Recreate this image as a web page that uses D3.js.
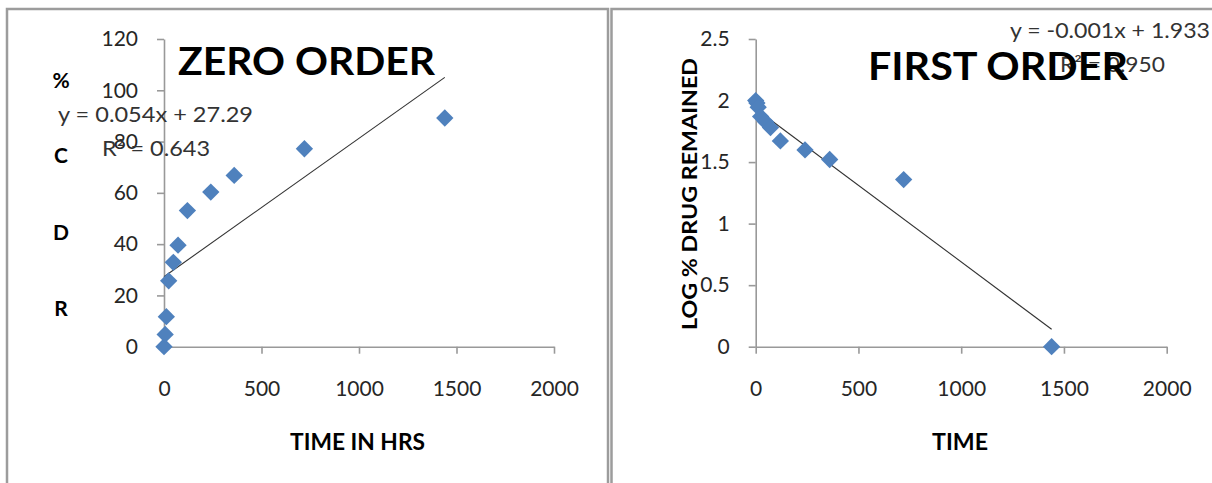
<!DOCTYPE html>
<html><head><meta charset="utf-8">
<script src="https://cdn.jsdelivr.net/npm/d3@7"></script>
<style>body{margin:0;background:#fff;overflow:hidden}</style>
</head><body><svg id="c" width="1212" height="483"></svg>
<script>
// ---- data ----
const timeHrs = [0, 6, 12, 24, 48, 72, 120, 240, 360, 720, 1440];
const cdrPercent = [0, 4.8, 11.7, 25.7, 32.9, 39.6, 53.1, 60.3, 66.8, 77.2, 89.2];
const logDrugRemained = [2.0, 1.979, 1.946, 1.870, 1.827, 1.780, 1.672, 1.599, 1.521, 1.358, 0];
const zeroTrend = [0.054, 27.29];      // slope, intercept
const firstTrend = [-0.001244, 1.933]; // slope, intercept
const xTicks = [0, 500, 1000, 1500, 2000];
const zeroYTicks = [0, 20, 40, 60, 80, 100, 120];
const firstYTicks = [0, 0.5, 1, 1.5, 2, 2.5];
const zeroEq = ["y = 0.054x + 27.29", "R² = 0.643"];
const firstEq = ["y = -0.001x + 1.933", "R² = 0.950"];
const titles = ["ZERO ORDER", "FIRST ORDER"];
const xTitles = ["TIME IN HRS", "TIME"];
const zeroYLetters = ["%", "C", "D", "R"];
const firstYTitle = "LOG % DRUG REMAINED";

const svg = d3.select("#c");
const FONT = "Lato, 'Open Sans', sans-serif";
const blue = "#4f81bd";
const axisCol = "#999";

// panel frames
svg.append("rect").attr("x", 7).attr("y", 9).attr("width", 601).attr("height", 520)
  .attr("fill", "none").attr("stroke", "#9c9c9c").attr("stroke-width", 2.5);
svg.append("rect").attr("x", 611.5).attr("y", 9).attr("width", 640).attr("height", 520)
  .attr("fill", "none").attr("stroke", "#9c9c9c").attr("stroke-width", 2.5);

function panel(cfg) {
  const x = d3.scaleLinear().domain([0, 2000]).range(cfg.xr);
  const y = d3.scaleLinear().domain(cfg.yd).range([346.7, 39]);
  const g = svg.append("g");

  const ax = g.append("g").attr("transform", `translate(0,${y(0)})`)
    .call(d3.axisBottom(x).tickValues(xTicks).tickSize(7).tickSizeOuter(0).tickPadding(27).tickFormat(d3.format("d")));
  const ay = g.append("g").attr("transform", `translate(${x(0)},0)`)
    .call(d3.axisLeft(y).tickValues(cfg.yTicks).tickSize(7).tickSizeOuter(0).tickPadding(19).tickFormat(cfg.fmt));
  [ax, ay].forEach(a => {
    a.selectAll("path,line").attr("stroke", axisCol).attr("stroke-width", 1.6);
    a.selectAll("text").attr("font-family", FONT).attr("font-size", 21).attr("fill", "#262626");
  });

  // trendline
  const [m, b] = cfg.trend;
  const x0 = d3.min(timeHrs), x1 = d3.max(timeHrs);
  g.append("line").attr("x1", x(x0)).attr("y1", y(m * x0 + b)).attr("x2", x(x1)).attr("y2", y(m * x1 + b))
    .attr("stroke", "#333").attr("stroke-width", 1.1);

  // points
  const sym = d3.symbol().type(d3.symbolSquare).size(150);
  g.selectAll("path.pt").data(timeHrs.map((t, i) => [t, cfg.vals[i]])).enter().append("path")
    .attr("class", "pt").attr("d", sym)
    .attr("transform", d => `translate(${x(d[0])},${y(d[1])}) rotate(45)`)
    .attr("fill", blue);

  // equations
  cfg.eq.forEach((t, i) => {
    g.append("text").attr("x", cfg.eqPos[i][0]).attr("y", cfg.eqPos[i][1]).text(t)
      .attr("font-family", FONT).attr("font-size", 21).attr("fill", "#333")
      .attr("textLength", cfg.eqPos[i][2]).attr("lengthAdjust", "spacingAndGlyphs");
  });

  // title
  g.append("text").attr("x", cfg.titlePos[0]).attr("y", cfg.titlePos[1]).text(cfg.title)
    .attr("font-family", FONT).attr("font-weight", 700).attr("font-size", 39).attr("fill", "#000")
    .attr("textLength", cfg.titlePos[2]).attr("lengthAdjust", "spacingAndGlyphs");

  // x title
  g.append("text").attr("x", cfg.xtPos[0]).attr("y", 450).text(cfg.xTitle)
    .attr("font-family", FONT).attr("font-weight", 700).attr("font-size", 22).attr("fill", "#000")
    .attr("textLength", cfg.xtPos[1]).attr("lengthAdjust", "spacingAndGlyphs");
  return g;
}

panel({
  xr: [164, 554], yd: [0, 120], yTicks: zeroYTicks, fmt: d3.format("d"),
  vals: cdrPercent, trend: zeroTrend, eq: zeroEq,
  eqPos: [[58, 122, 195], [102, 156, 108]],
  title: titles[0], titlePos: [178, 75, 257],
  xTitle: xTitles[0], xtPos: [290, 135]
});
panel({
  xr: [755.7, 1166.7], yd: [0, 2.5], yTicks: firstYTicks, fmt: d => d3.format("")(d),
  vals: logDrugRemained, trend: firstTrend, eq: firstEq,
  eqPos: [[1010, 38, 200], [1060, 72, 105]],
  title: titles[1], titlePos: [868, 80, 260],
  xTitle: xTitles[1], xtPos: [932, 56]
});

// left y title: stacked letters
const letterY = [88, 163, 240, 316];
zeroYLetters.forEach((l, i) => {
  svg.append("text").attr("x", 61).attr("y", letterY[i]).attr("text-anchor", "middle").text(l)
    .attr("font-family", FONT).attr("font-weight", 700).attr("font-size", 21).attr("fill", "#000");
});
// right y title: rotated
svg.append("text").attr("transform", "translate(697,194) rotate(-90)").attr("text-anchor", "middle")
  .text(firstYTitle).attr("font-family", FONT).attr("font-weight", 700).attr("font-size", 21)
  .attr("fill", "#000").attr("textLength", 272).attr("lengthAdjust", "spacingAndGlyphs");
</script></body></html>
